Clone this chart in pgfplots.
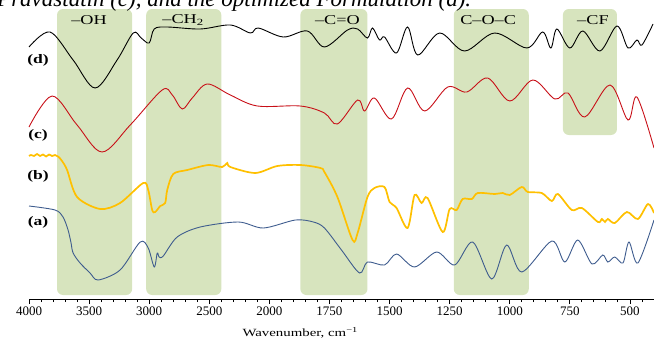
\documentclass[border=0pt]{standalone}
\usepackage{fontspec}
\setmainfont{Liberation Serif}
\usepackage{graphicx}
\usepackage{pgfplots}
\pgfplotsset{compat=1.18}
\definecolor{band}{RGB}{215,228,190}
\definecolor{cred}{RGB}{200,16,24}
\definecolor{cyel}{RGB}{255,192,0}
\definecolor{cblue}{RGB}{62,92,142}
\newcommand{\lab}[1]{\scalebox{1.35}[1]{#1}}
\begin{document}
\begin{tikzpicture}
\begin{axis}[
  name=ax,
  width=625pt, height=299pt, scale only axis,
  x coord trafo/.code={\pgfmathparse{#1>1999.99 ? (4000-#1)/2 : 3000-#1}},
  xmin=4000, xmax=400, ymin=0, ymax=299,
  axis x line*=bottom, axis y line=none,
  xtick={4000,3500,3000,2500,2000,1750,1500,1250,1000,750,500},
  xticklabels={4000,3500,3000,2500,2000,1750,1500,1250,1000,750,500},
  minor xtick={3900,3800,3700,3600,3400,3300,3200,3100,2900,2800,2700,2600,2400,2300,2200,2100,1950,1900,1850,1800,1700,1650,1600,1550,1450,1400,1350,1300,1200,1150,1100,1050,950,900,850,800,700,650,600,550,450},
  tick align=outside,
  major tick length=5pt, minor tick length=3pt,
  every tick/.style={black, line width=0.9pt},
  axis line style={black, line width=0.8pt},
  xticklabel style={font=\fontsize{13}{15}\selectfont, yshift=1pt},
  /pgf/number format/assume math mode=true,
  clip=false,
]
% bands
\fill[band, rounded corners=6pt] (axis cs:3767,4) rectangle (axis cs:3142,290);
\fill[band, rounded corners=6pt] (axis cs:3025,4) rectangle (axis cs:2400,290);
\fill[band, rounded corners=6pt] (axis cs:1871,4) rectangle (axis cs:1592,290);
\fill[band, rounded corners=6pt] (axis cs:1233,4) rectangle (axis cs:921,290);
\fill[band, rounded corners=6pt] (axis cs:779,164) rectangle (axis cs:554,290);
% band labels
\node[font=\fontsize{13.5}{15}\selectfont] at (axis cs:3500,279) {\lab{–OH}};
\node[font=\fontsize{13.5}{15}\selectfont] at (axis cs:2717,279) {\lab{–CH\textsubscript{2}}};
\node[font=\fontsize{13.5}{15}\selectfont] at (axis cs:1717,279) {\lab{–C=O}};
\node[font=\fontsize{13.5}{15}\selectfont] at (axis cs:1090,279) {\lab{C–O–C}};
\node[font=\fontsize{13.5}{15}\selectfont] at (axis cs:654,279) {\lab{–CF}};
% (d)
\addplot[black, line width=0.9pt, smooth, tension=0.55] coordinates {
(4000,252) (3825,267) (3633,239) (3450,211) (3267,239) (3133,266) (3067,261) (3000,256) (2958,270) (2850,272) (2575,270) (2325,274) (2158,266) (2092,271) (1942,262) (1842,268) (1771,252) (1675,269) (1633,270) (1592,261) (1571,271) (1542,259) (1521,262) (1471,246) (1425,272) (1383,244) (1292,266) (1188,248) (1063,266) (929,251) (863,267) (829,251) (804,270) (750,251) (696,268) (625,248) (554,273) (508,251) (471,259) (450,254) (404,275)
};
% (c)
\addplot[cred, line width=0.9pt, smooth, tension=0.55] coordinates {
(4000,172) (3808,203) (3600,174) (3392,147) (3158,174) (2892,209) (2808,204) (2725,190) (2642,201) (2517,215) (2325,204) (2100,193) (1871,193) (1771,186) (1717,175) (1633,199) (1604,188) (1563,201) (1492,180) (1425,211) (1354,188) (1258,212) (1179,207) (1092,221) (1000,198) (904,219) (813,200) (758,206) (688,182) (583,214) (508,179) (471,202) (400,151)
};
% (b)
\addplot[cyel, line width=1.7pt, smooth, tension=0.5] coordinates {
(4000,143) (3983,144) (3958,143) (3933,145) (3908,143) (3883,144.5) (3858,142.5) (3833,144.5) (3808,143) (3783,144) (3758,142.5) (3725,138) (3683,129) (3600,102) (3408,90) (3242,96) (3050,116) (3008,109) (2975,89) (2950,87) (2908,93) (2867,96) (2850,109) (2800,125) (2683,129) (2508,134) (2392,132) (2350,136) (2325,132) (2117,126) (1967,133) (1871,134) (1788,131) (1771,127) (1717,102) (1654,59) (1633,66) (1592,102) (1563,111) (1521,112) (1500,97) (1471,91) (1425,71) (1396,104) (1367,96) (1342,101) (1279,67) (1250,90) (1221,89) (1196,100) (1158,100) (1133,106) (1063,105) (1029,106) (1000,104) (950,112) (925,107) (867,106) (825,98) (800,105) (742,89) (700,91) (633,77) (617,80) (604,77) (592,80) (563,76) (513,87) (467,80) (425,95) (400,86)
};
% (a)
\addplot[cblue, line width=0.9pt, smooth, tension=0.5] coordinates {
(4000,93) (3783,89) (3717,82) (3675,69) (3650,56) (3633,46) (3575,36) (3492,26) (3425,19) (3242,29) (3075,57) (3008,51) (2958,32) (2933,46) (2917,42) (2883,43) (2767,62) (2575,72) (2258,77) (2050,71) (1892,79) (1817,77) (1771,71) (1700,49) (1625,26) (1592,37) (1521,34) (1471,45) (1396,32) (1304,47) (1229,34) (1154,57) (1075,20) (1013,54) (950,27) (825,58) (771,37) (717,59) (658,35) (613,44) (592,37) (563,42) (529,36) (504,57) (467,36) (400,79)
};
% curve labels
\node[font=\fontsize{13}{15}\selectfont\bfseries] at (axis cs:3925,239) {\lab{(d)}};
\node[font=\fontsize{13}{15}\selectfont\bfseries] at (axis cs:3925,164) {\lab{(c)}};
\node[font=\fontsize{13}{15}\selectfont\bfseries] at (axis cs:3925,123) {\lab{(b)}};
\node[font=\fontsize{13}{15}\selectfont\bfseries] at (axis cs:3925,77) {\lab{(a)}};
% x label
\node[font=\fontsize{11}{13}\selectfont] at (rel axis cs:0.434,-0.114) {\lab{Wavenumber, cm\textsuperscript{−1}}};
% caption fragment
\node[anchor=base west, inner sep=0pt, font=\fontsize{23}{26}\selectfont\itshape] at (rel axis cs:-0.0512,0.9766) {Pravastatin (c), and the optimized Formulation (d).};
\coordinate (BL) at (rel axis cs:-0.0464,-0.1304);
\coordinate (TR) at (rel axis cs:1,1);
\end{axis}
\pgfresetboundingbox
\path[use as bounding box] (BL) rectangle (TR);
\end{tikzpicture}
\end{document}
